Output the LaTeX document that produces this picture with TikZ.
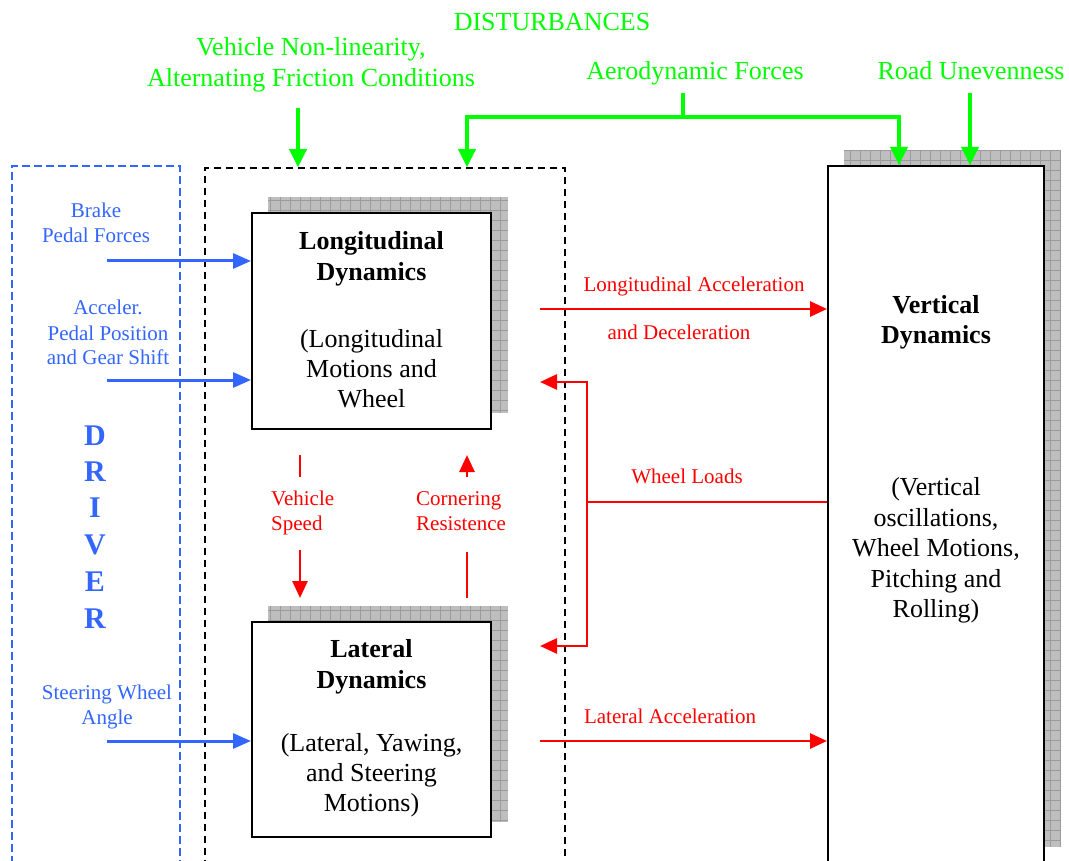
\documentclass[tikz,border=0pt]{standalone}
\usepackage{fontspec}
\setmainfont{Liberation Serif}
\usetikzlibrary{arrows.meta}
\definecolor{dgreen}{RGB}{0,255,0}
\definecolor{dblue}{RGB}{51,102,255}
\definecolor{dred}{RGB}{255,0,0}
\definecolor{shfill}{RGB}{190,190,190}
\definecolor{shline}{RGB}{155,155,155}
\begin{document}
\begin{tikzpicture}[x=1pt,y=-1pt,
  blk/.style={draw=black,line width=2pt,fill=white,inner sep=0pt},
  shadowfill/.style={fill=shfill},
  shadowgrid/.style={draw=shline,line width=0.6pt},
  container/.style={draw,line width=1.5pt,inner sep=0pt},
  txt/.style={anchor=base,inner sep=0pt,align=center},
  bigtxt/.style={txt,font=\fontsize{26}{30}\selectfont},
  bigbold/.style={txt,font=\fontsize{26}{30}\selectfont\bfseries},
  grntxt/.style={txt,text=dgreen,font=\fontsize{26}{31}\selectfont},
  blutxt/.style={txt,text=dblue,font=\fontsize{21}{25}\selectfont},
  drvtxt/.style={txt,text=dblue,font=\fontsize{30}{36}\selectfont\bfseries},
  redtxt/.style={txt,text=dred,font=\fontsize{21}{25}\selectfont},
  tip/.style={-{Triangle[length=18pt,width=17pt]}},
  grnarrow/.style={tip,draw=dgreen,line width=3.5pt},
  grnline/.style={draw=dgreen,line width=3.5pt},
  bluarrow/.style={-{Triangle[length=18pt,width=15pt]},draw=dblue,line width=3pt},
  redarrow/.style={-{Triangle[length=17pt,width=15pt]},draw=dred,line width=2.8pt},
  redline/.style={draw=dred,line width=2.8pt}
]
\useasboundingbox (0,0) rectangle (1069,861);
\clip (0,0) rectangle (1069,861);
\fill[white] (0,0) rectangle (1069,861);

% containers
\node[container,draw=dblue,dash pattern=on 8pt off 4pt,minimum width=168pt,minimum height=714pt] (drv) at (96,523) {};
\node[container,draw=black,dash pattern=on 7pt off 5pt,minimum width=360pt,minimum height=712pt] (sys) at (385,524) {};

% shadows
\fill[shadowfill] (268,197) rectangle (508,413);
\draw[shadowgrid,step=10pt] (268,197) grid (508,413);
\fill[shadowfill] (268,606) rectangle (508,822);
\draw[shadowgrid,step=10pt] (268,606) grid (508,822);
\fill[shadowfill] (844,150) rectangle (1060,847);
\draw[shadowgrid,step=10pt] (844,150) grid (1060,847);

% blocks
\node[blk,minimum width=239pt,minimum height=216pt] (lon) at (371.5,321) {};
\node[blk,minimum width=239pt,minimum height=215pt] (lat) at (371.5,729.5) {};
\node[blk,minimum width=216pt,minimum height=714pt] (vert) at (936,523) {};

% block texts
\node[bigbold] (lon1) at (371.5,250) {Longitudinal};
\node[bigbold] (lon2) at (371.5,280) {Dynamics};
\node[bigtxt] (lon3) at (371.5,347) {(Longitudinal};
\node[bigtxt] (lon4) at (371.5,377) {Motions and};
\node[bigtxt] (lon5) at (371.5,407) {Wheel};

\node[bigbold] (lat1) at (371.5,657) {Lateral};
\node[bigbold] (lat2) at (371.5,688) {Dynamics};
\node[bigtxt] (lat3) at (371.5,751) {(Lateral, Yawing,};
\node[bigtxt] (lat4) at (371.5,781) {and Steering};
\node[bigtxt] (lat5) at (371.5,811) {Motions)};

\node[bigbold] (ver1) at (936,313) {Vertical};
\node[bigbold] (ver2) at (936,343) {Dynamics};
\node[bigtxt] (ver3) at (936,495) {(Vertical};
\node[bigtxt] (ver4) at (936,526) {oscillations,};
\node[bigtxt] (ver5) at (936,556) {Wheel Motions,};
\node[bigtxt] (ver6) at (936,587) {Pitching and};
\node[bigtxt] (ver7) at (936,617) {Rolling)};

% disturbances
\node[grntxt] (dist) at (552,31) {DISTURBANCES};
\node[grntxt] (vnl1) at (311,56) {Vehicle Non-linearity,};
\node[grntxt] (vnl2) at (311,87) {Alternating Friction Conditions};
\node[grntxt] (aero) at (695,80) {Aerodynamic Forces};
\node[grntxt] (road) at (971,80) {Road Unevenness};

\coordinate (vnls) at (298,108);
\coordinate (aeros) at (683,93);
\coordinate (aeroj) at (683,117);
\coordinate (aerol) at (467,117);
\coordinate (aeror) at (899,117);
\coordinate (roads) at (970,93);
\draw[grnarrow] (vnls) -- (vnls |- sys.north);
\draw[grnline] (aeros) -- (aeroj);
\draw[grnarrow] (aeroj) -- (aerol) -- (aerol |- sys.north);
\draw[grnarrow] (aeroj) -- (aeror) -- (aeror |- vert.north);
\draw[grnarrow] (roads) -- (roads |- vert.north);

% driver
\node[drvtxt] (d1) at (95,445) {D};
\node[drvtxt] (d2) at (95,481) {R};
\node[drvtxt] (d3) at (95,517) {I};
\node[drvtxt] (d4) at (95,554) {V};
\node[drvtxt] (d5) at (95,591) {E};
\node[drvtxt] (d6) at (95,628) {R};

\node[blutxt] (bp1) at (96,218) {Brake};
\node[blutxt] (bp2) at (96,243) {Pedal Forces};
\node[blutxt] (ap1) at (108,315) {Acceler.};
\node[blutxt] (ap2) at (108,340) {Pedal Position};
\node[blutxt] (ap3) at (108,364) {and Gear Shift};
\node[blutxt] (sw1) at (107,699) {Steering Wheel};
\node[blutxt] (sw2) at (107,724) {Angle};

\coordinate (bps) at (107,261);
\coordinate (aps) at (107,380);
\coordinate (sws) at (107,741);
\draw[bluarrow] (bps) -- (bps -| lon.west);
\draw[bluarrow] (aps) -- (aps -| lon.west);
\draw[bluarrow] (sws) -- (sws -| lat.west);

% red connections
\node[redtxt] (la1) at (694,291) {Longitudinal Acceleration};
\node[redtxt] (la2) at (679,339) {and Deceleration};
\coordinate (las) at (540,309);
\draw[redarrow] (las) -- (las -| vert.west);

\node[redtxt] (lta) at (670,723) {Lateral Acceleration};
\coordinate (ltas) at (540,741);
\draw[redarrow] (ltas) -- (ltas -| vert.west);

\node[redtxt] (wl) at (687,483) {Wheel Loads};
\coordinate (wls) at (828,502);
\coordinate (wlj) at (587,502);
\coordinate (wlt) at (587,382);
\coordinate (wlb) at (587,646);
\coordinate (wlte) at (540,382);
\coordinate (wlbe) at (540,646);
\draw[redline] (vert.west |- wls) -- (wlj);
\draw[redarrow] (wlj) -- (wlt) -- (wlte);
\draw[redarrow] (wlj) -- (wlb) -- (wlbe);

\node[redtxt,anchor=base west] (vs1) at (271,505) {Vehicle};
\node[redtxt,anchor=base west] (vs2) at (271,530) {Speed};
\coordinate (vsa) at (300,455);
\coordinate (vsb) at (300,477);
\coordinate (vsc) at (300,550);
\coordinate (vsd) at (300,598);
\draw[redline] (vsa) -- (vsb);
\draw[redarrow] (vsc) -- (vsd);

\node[redtxt,anchor=base west] (cr1) at (416,505) {Cornering};
\node[redtxt,anchor=base west] (cr2) at (416,530) {Resistence};
\coordinate (cra) at (467,598);
\coordinate (crb) at (467,552);
\coordinate (crc) at (467,477);
\coordinate (crd) at (467,455);
\draw[redline] (cra) -- (crb);
\draw[redarrow] (crc) -- (crd);
\end{tikzpicture}
\end{document}
